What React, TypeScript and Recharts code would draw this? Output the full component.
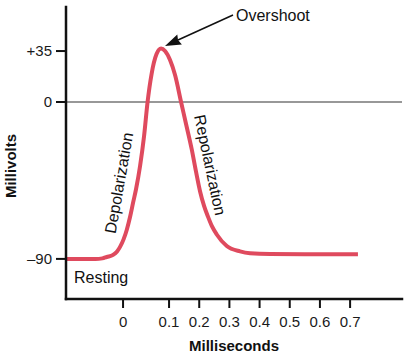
import React from "react";
import { Line, LineChart, ReferenceLine, XAxis, YAxis } from "recharts";

// action potential trace (ms, mV)
const timeMs = [
  -0.124, -0.06, -0.045, -0.0354, -0.0217, -0.013, -0.0065, 0.0011, 0.008, 0.0152, 0.0217, 0.0283, 0.037,
  0.0457, 0.0533, 0.062, 0.0728, 0.0826, 0.0913, 0.1033, 0.1199, 0.1398, 0.1563, 0.1752, 0.1895, 0.2028,
  0.216, 0.2293, 0.2425, 0.2581, 0.2913, 0.3353, 0.3685, 0.435, 0.55, 0.726,
];
const voltMv = [
  -90, -90, -89.7, -88.9, -87.7, -85.7, -83.1, -78.8, -73.4, -66, -57.9, -49.9, -36.7, -19.5, 0, 19.2,
  32.9, 36.7, 35, 28.8, 18.5, 0, -12.6, -27.2, -40.1, -51.3, -59.6, -65.9, -71.4, -76, -82.6, -85.7,
  -86.75, -87.2, -87.3, -87.3,
];

const xTicksMs = [0, 0.1, 0.2, 0.3, 0.4, 0.5, 0.6, 0.7];
const xTickLabels = ["0", "0.1", "0.2", "0.3", "0.4", "0.5", "0.6", "0.7"];
const yTicksMv = [35, 0, -90];
const yTickLabels = ["+35", "0", "–90"];

// the drawing is schematic: the first 0.1 ms is stretched, and the positive
// part of the voltage axis is squeezed. these fold that into the axis units.
const EARLY_STRETCH = 46 / 30.17;
const POSITIVE_SQUEEZE = 51 / 35 / (157 / 90);
const warpX = (t: number) => (t >= 0.1 ? t : 0.1 - (0.1 - t) * EARLY_STRETCH);
const warpY = (v: number) => (v >= 0 ? v * POSITIVE_SQUEEZE : v);

const data = timeMs.map((t, i) => ({ x: warpX(t), mv: warpY(voltMv[i]) }));

const RED = "#df4a5e";
const FONT = "'Liberation Sans', Arial, Helvetica, sans-serif";

export default function App() {
  return (
    <div style={{ position: "absolute", left: 0, top: 0, fontFamily: FONT }}>
      <LineChart width={405} height={355} data={data} margin={{ top: 7, right: 3, bottom: 0, left: 0 }}>
        <XAxis
          dataKey="x"
          type="number"
          domain={[warpX(-0.124), 0.872]}
          allowDataOverflow
          ticks={xTicksMs.map(warpX)}
          interval={0}
          tickFormatter={(_v, i) => xTickLabels[i]}
          height={56}
          tickSize={9}
          tickMargin={8}
          tick={{ fontSize: 15, fill: "#1a1a1a", fontFamily: FONT }}
          tickLine={{ stroke: "#111", strokeWidth: 2 }}
          axisLine={{ stroke: "#111", strokeWidth: 2.5, strokeLinecap: "square" }}
        />
        <YAxis
          type="number"
          domain={[-113, 54.5]}
          allowDataOverflow
          ticks={yTicksMv.map(warpY)}
          interval={0}
          tickFormatter={(_v, i) => yTickLabels[i]}
          width={66}
          tickSize={10}
          tickMargin={4}
          tick={{ fontSize: 15, fill: "#1a1a1a", fontFamily: FONT }}
          tickLine={{ stroke: "#111", strokeWidth: 2 }}
          axisLine={{ stroke: "#111", strokeWidth: 2.5, strokeLinecap: "square" }}
        />
        <ReferenceLine y={0} stroke="#333" strokeWidth={1.2} />
        <Line
          dataKey="mv"
          type="monotone"
          stroke={RED}
          strokeWidth={4}
          dot={false}
          isAnimationActive={false}
        />

        <text x={10} y={166} transform="rotate(-90 10 166)" textAnchor="middle" dominantBaseline="central"
          fontSize={15} fontWeight="bold" fill="#111" fontFamily={FONT}>
          Millivolts
        </text>
        <text x={234} y={351} textAnchor="middle" fontSize={15} fontWeight="bold" fill="#111" fontFamily={FONT}>
          Milliseconds
        </text>
        <text x={236} y={21} fontSize={16} fill="#111" fontFamily={FONT}>
          Overshoot
        </text>
        <line x1={233} y1={15} x2={178} y2={40} stroke="#111" strokeWidth={1.5} />
        <polygon points="165,46 177.3,34.4 178,40 181.9,44.4" fill="#111" />
        <text x={74} y={283} fontSize={16} fill="#111" fontFamily={FONT}>
          Resting
        </text>
        <text x={119} y={183} transform="rotate(-80 119 183)" textAnchor="middle" dominantBaseline="central"
          fontSize={16} fill="#111" fontFamily={FONT}>
          Depolarization
        </text>
        <text x={210} y={165} transform="rotate(78 210 165)" textAnchor="middle" dominantBaseline="central"
          fontSize={16} fill="#111" fontFamily={FONT}>
          Repolarization
        </text>
      </LineChart>
    </div>
  );
}
